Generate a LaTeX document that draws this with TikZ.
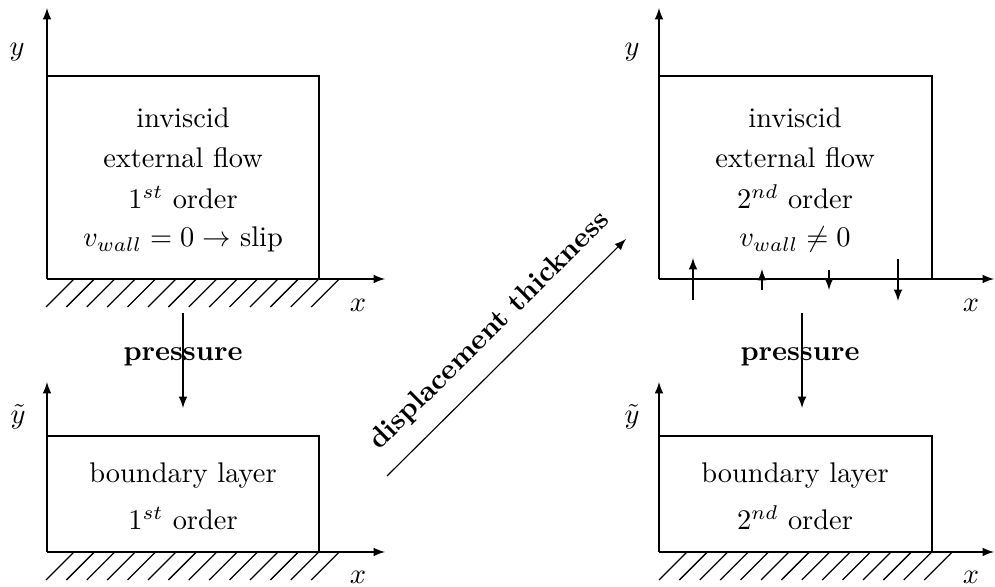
\documentclass[tikz,border=0pt]{standalone}
\usetikzlibrary{arrows}
\begin{document}
\begin{tikzpicture}[x=0.352pt,y=-0.352pt,>=latex,line width=0.4pt,
  ln/.style={anchor=base,inner sep=0pt},
  lab/.style={inner sep=0pt},
  hatchline/.style={line width=0.45pt}]
\useasboundingbox (0,0) rectangle (995,587);
% ---------- coordinates ----------
\coordinate (O1) at (47,279);  \coordinate (Y1) at (47,8);   \coordinate (X1) at (385,279);
\coordinate (O2) at (47,552);  \coordinate (Y2) at (47,382); \coordinate (X2) at (385,552);
\coordinate (O3) at (659,279); \coordinate (Y3) at (659,8);  \coordinate (X3) at (994,279);
\coordinate (O4) at (659,552); \coordinate (Y4) at (659,382); \coordinate (X4) at (994,552);
% ---------- boxes ----------
\draw (O1) |- (319,76) -- (319,279);
\draw (O2) |- (319,436) -- (319,552);
\draw (O3) |- (932,76) -- (932,279);
\draw (O4) |- (932,436) -- (932,552);
% ---------- axes ----------
\draw[->] (O1) -- (Y1); \draw[->] (O1) -- (X1);
\draw[->] (O2) -- (Y2); \draw[->] (O2) -- (X2);
\draw[->] (O3) -- (Y3); \draw[->] (O3) -- (X3);
\draw[->] (O4) -- (Y4); \draw[->] (O4) -- (X4);
% ---------- hatching ----------
\foreach \k in {0,...,13}{
  \draw[hatchline] ({46+20.4*\k},307) -- ({74+20.4*\k},279);
  \draw[hatchline] ({46+20.4*\k},580) -- ({74+20.4*\k},552);
  \draw[hatchline] ({659+20.4*\k},580) -- ({687+20.4*\k},552);
}
% ---------- axis labels ----------
\node[lab] (ly1) at (17,52) {$y$};
\node[lab] (lx1) at (358,305) {$x$};
\node[lab] (ly2) at (18,417) {$\tilde{y}$};
\node[lab] (lx2) at (358,577) {$x$};
\node[lab] (ly3) at (632,52) {$y$};
\node[lab] (lx3) at (971,305) {$x$};
\node[lab] (ly4) at (632,417) {$\tilde{y}$};
\node[lab] (lx4) at (971,577) {$x$};
% ---------- box texts ----------
\node[ln] (a1) at (183,128) {inviscid};
\node[ln] (a2) at (183,168) {external flow};
\node[ln] (a3) at (183,209) {1$^{st}$ order};
\node[ln] (a4) at (183,247) {$v_{wall}=0\rightarrow$ slip};
\node[ln] (b1) at (183,483) {boundary layer};
\node[ln] (b2) at (183,530) {1$^{st}$ order};
\node[ln] (c1) at (795,128) {inviscid};
\node[ln] (c2) at (795,168) {external flow};
\node[ln] (c3) at (795,209) {2$^{nd}$ order};
\node[ln] (c4) at (795,247) {$v_{wall}\neq 0$};
\node[ln] (e1) at (795,483) {boundary layer};
\node[ln] (e2) at (795,530) {2$^{nd}$ order};
% ---------- pressure arrows ----------
\coordinate (P1a) at (183,313); \coordinate (P1b) at (183,408);
\coordinate (P2a) at (802,313); \coordinate (P2b) at (802,408);
\node[lab] (pr1) at (183,357) {\textbf{pressure}};
\node[lab] (pr2) at (800,357) {\textbf{pressure}};
\draw[->] (P1a) -- (P1b);
\draw[->] (P2a) -- (P2b);
% ---------- wall velocity arrows ----------
\coordinate (w1a) at (693,300); \coordinate (w1b) at (693,258);
\coordinate (w2a) at (762,290); \coordinate (w2b) at (762,269);
\coordinate (w3a) at (829,270); \coordinate (w3b) at (829,290);
\coordinate (w4a) at (898,259); \coordinate (w4b) at (898,301);
\draw[->] (w1a) -- (w1b);
\draw[->] (w2a) -- (w2b);
\draw[->] (w3a) -- (w3b);
\draw[->] (w4a) -- (w4b);
% ---------- displacement thickness ----------
\coordinate (d1) at (387,476); \coordinate (d2) at (626,239);
\draw[->] (d1) -- node[pos=0.52,sloped,anchor=south,inner sep=6pt] (dt) {\textbf{displacement thickness}} (d2);
\end{tikzpicture}
\end{document}
